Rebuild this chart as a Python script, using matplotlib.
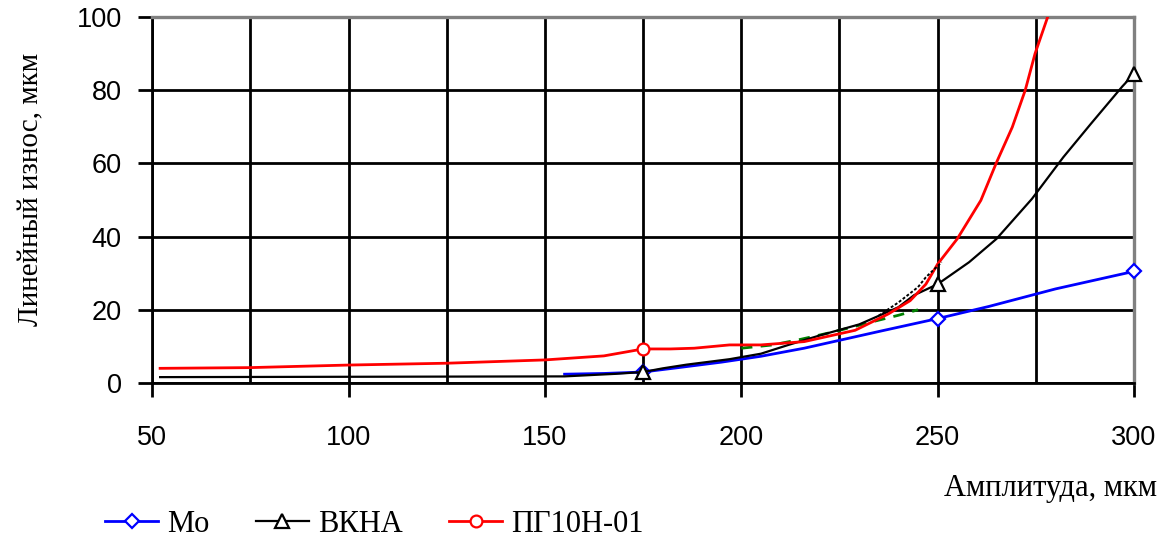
import numpy as np
import matplotlib
matplotlib.use('Agg')
import matplotlib.pyplot as plt
from matplotlib.ticker import MultipleLocator

# values
mo_x = [155, 165, 175, 184, 195, 205, 216, 226, 236, 250, 263, 280, 300]
mo_y = [2.4, 2.6, 3.0, 4.2, 5.7, 7.3, 9.5, 11.9, 14.3, 17.6, 20.9, 25.7, 30.5]

vk_x = [52, 155, 168, 175, 180, 186, 197, 205, 212, 220, 230, 240, 244, 250,
        258, 265, 274, 282, 289, 297, 300]
vk_y = [1.6, 1.8, 2.5, 3.0, 4.0, 5.0, 6.5, 8.0, 10.4, 13.0, 16.0, 20.7, 24.0,
        27.0, 33.0, 39.4, 50.3, 61.7, 70.8, 81.0, 84.5]

# short extra black piece running beside the red curve
vk2_x = [235, 240, 245, 247, 251]
vk2_y = [18.4, 22.0, 26.2, 28.9, 33.0]

pg_x = [52, 75, 100, 125, 150, 165, 175, 182, 188, 197, 205, 216, 229, 237.5,
        243, 247, 250, 255, 261, 265, 269, 272.3, 274.8, 278.3, 281]
pg_y = [4.0, 4.2, 4.9, 5.4, 6.3, 7.4, 9.3, 9.3, 9.5, 10.4, 10.4, 11.3, 14.4,
        18.9, 22.5, 27.0, 32.5, 39.4, 49.9, 60.3, 69.9, 80.0, 90.0, 100.9, 108]

gr_x = [200, 208, 215, 222, 228, 234, 240, 245]
gr_y = [9.5, 10.4, 11.9, 13.6, 15.2, 16.9, 18.5, 20.0]

mark_at = [175, 250, 300]
pg_mark_at = [175]

x_ticks = [50, 100, 150, 200, 250, 300]
y_ticks = [0, 20, 40, 60, 80, 100]

serif = ['Liberation Serif', 'DejaVu Serif']
sans = ['Liberation Sans', 'DejaVu Sans']

fig = plt.figure(figsize=(11.65, 5.42), dpi=100)
ax = fig.add_axes([0.1307, 0.2934, 0.8427, 0.6752])

ax.plot(gr_x, gr_y, color='#008000', lw=2, dashes=(4, 3), zorder=2)
ax.plot(mo_x, mo_y, color='#0000FF', lw=2, marker='D', ms=7.5, mfc='white',
        mew=1.6, markevery=[mo_x.index(v) for v in mark_at], label='Mo',
        zorder=3, clip_on=False)
ax.plot(vk_x, vk_y, color='black', lw=1.6, marker='^', ms=10, mfc='white',
        mew=1.6, markevery=[vk_x.index(v) for v in mark_at], label='ВКНА',
        zorder=4, clip_on=False)
ax.plot(pg_x, pg_y, color='#FF0000', lw=2, marker='o', ms=8.5, mfc='white',
        mew=1.6, markevery=[pg_x.index(v) for v in pg_mark_at], label='ПГ10Н-01',
        zorder=4)
ax.plot(vk2_x, vk2_y, color='black', lw=1.4, ls=(0, (1.5, 1)), zorder=5)

ax.set_xlim(50, 300)
ax.set_ylim(0, 100)
ax.set_xticks(x_ticks)
ax.set_yticks(y_ticks)
ax.xaxis.set_minor_locator(MultipleLocator(25))
ax.grid(True, which='both', color='black', lw=2)
ax.tick_params(which='major', direction='out', length=10, width=2, color='black')
ax.tick_params(which='minor', length=0)
ax.tick_params(axis='x', pad=20)
ax.tick_params(axis='y', pad=12)

for lab in ax.get_xticklabels() + ax.get_yticklabels():
    lab.set_family(sans)
    lab.set_fontsize(19.5)

for side in ['left', 'bottom']:
    ax.spines[side].set_color('black')
    ax.spines[side].set_linewidth(2)
for side in ['top', 'right']:
    ax.spines[side].set_color('#808080')
    ax.spines[side].set_linewidth(2.4)

ax.set_ylabel('Линейный износ, мкм', family=serif, fontsize=21, labelpad=40)
ax.yaxis.set_label_coords(-0.11, 0.53)

fig.text(0.993, 0.0996, 'Амплитуда, мкм', family=serif, fontsize=22,
         ha='right', va='center')

fig.legend(loc='center left', bbox_to_anchor=(0.09, 0.033), ncol=3, frameon=False,
           prop={'family': serif, 'size': 22}, handlelength=1.75, handletextpad=0.3,
           columnspacing=1.5, borderaxespad=0, borderpad=0)

fig.savefig('out.png', dpi=100)
